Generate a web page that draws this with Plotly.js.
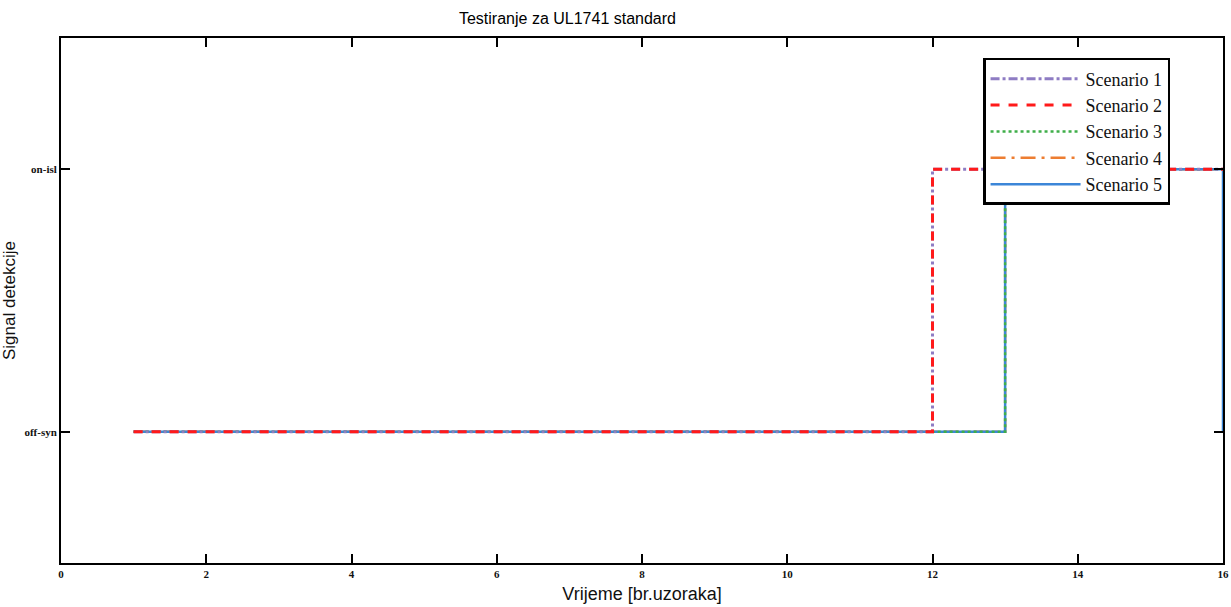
<!DOCTYPE html>
<html>
<head>
<meta charset="utf-8">
<script src="https://cdn.plot.ly/plotly-3.0.1.min.js"></script>
<style>html,body{margin:0;padding:0;background:#fff;}</style>
</head>
<body>
<div id="chart" style="width:1231px;height:607px;"></div>
<script>
// Data (sample index vs detection signal: 0 = off-syn, 1 = on-isl)
const samples = [1,2,3,4,5,6,7,8,9,10,11,12,13,14,15,16];
const scenario1 = [0,0,0,0,0,0,0,0,0,0,0,1,1,1,1,1];
const scenario2 = [0,0,0,0,0,0,0,0,0,0,0,1,1,1,1,1];
const scenario3 = [0,0,0,0,0,0,0,0,0,0,0,0,1,1,1,1];
const scenario4 = [0,0,0,0,0,0,0,0,0,0,0,0,1,1,1,1];
const scenario5 = [0,0,0,0,0,0,0,0,0,0,0,0,1,1,1,0];
const seriesNames = ['Scenario 1','Scenario 2','Scenario 3','Scenario 4','Scenario 5'];
const yTickVals = [0, 1];
const yTickText = ['off-syn', 'on-isl'];
const xTickVals = [0,2,4,6,8,10,12,14,16];

const styles = [
  {color:'#8e7cc3', dash:'dashdot', width:3},
  {color:'#ff1a1a', dash:'dash', width:3},
  {color:'#3fae49', dash:'dot', width:2.5},
  {color:'#ed7d31', dash:'longdashdot', width:2.5},
  {color:'#3c86d8', dash:'solid', width:2.5}
];
const values = [scenario1, scenario2, scenario3, scenario4, scenario5];
const drawOrder = [3,4,2,0,1];
const traces = drawOrder.map(i => ({
  x: samples, y: values[i], name: seriesNames[i], type:'scatter', mode:'lines',
  line: {shape:'hv', color: styles[i].color, dash: styles[i].dash, width: styles[i].width},
  legendrank: i+1
}));

const tickFont = {family:'Liberation Serif, Times New Roman, serif', size:11, color:'#111', weight:'bold'};
const layout = {
  width:1231, height:607,
  margin:{l:61, r:8, t:38, b:44},
  paper_bgcolor:'#fff', plot_bgcolor:'#fff',
  title:{text:'Testiranje za UL1741 standard', x:0.461, xanchor:'center', y:0.97, yanchor:'middle',
         font:{family:'Liberation Sans, Arial, sans-serif', size:16, color:'#000'}},
  xaxis:{range:[0,16], tickvals:xTickVals, ticktext:xTickVals.map(String),
         ticks:'inside', ticklen:9, tickwidth:2, tickcolor:'#000',
         showline:true, linecolor:'#000', linewidth:2, mirror:'ticks',
         showgrid:false, zeroline:false, tickfont:tickFont,
         title:{text:'Vrijeme [br.uzoraka]', standoff:8, font:{family:'Liberation Sans, Arial, sans-serif', size:18, color:'#111'}}},
  yaxis:{range:[-0.5,1.5], tickvals:yTickVals, ticktext:yTickText,
         ticks:'inside', ticklen:9, tickwidth:2, tickcolor:'#000',
         showline:true, linecolor:'#000', linewidth:2, mirror:'ticks',
         showgrid:false, zeroline:false, tickfont:tickFont,
         title:{text:'Signal detekcije', standoff:4, font:{family:'Liberation Sans, Arial, sans-serif', size:17, color:'#111'}}},
  legend:{x:0.7935, y:0.962, xanchor:'left', yanchor:'top', bgcolor:'#fff',
          bordercolor:'#000', borderwidth:2.5, itemwidth:90, tracegroupgap:0,
          traceorder:'normal',
          font:{family:'Liberation Serif, Times New Roman, serif', size:18, color:'#111'}},
  showlegend:true
};
Plotly.newPlot('chart', traces, layout, {displayModeBar:false, staticPlot:true});
</script>
</body>
</html>
